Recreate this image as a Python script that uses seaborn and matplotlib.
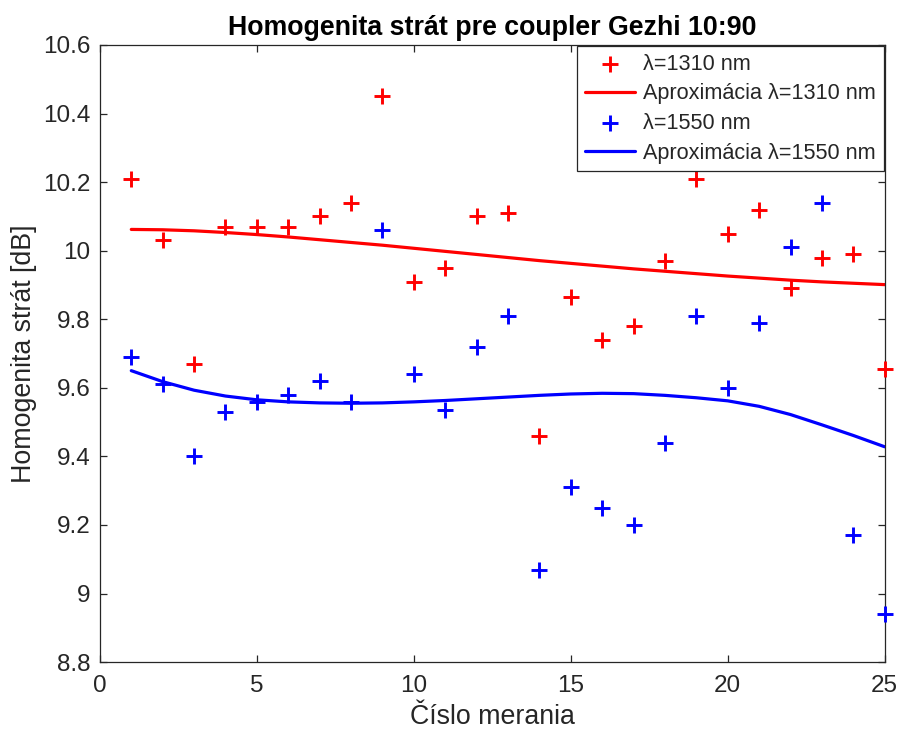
import numpy as np
import pandas as pd
import matplotlib
matplotlib.use("Agg")
import matplotlib.pyplot as plt
import seaborn as sns

meranie = list(range(1, 26))
val_1310 = [10.21, 10.03, 9.67, 10.07, 10.07, 10.07, 10.10, 10.14, 10.45, 9.91,
            9.95, 10.10, 10.11, 9.46, 9.865, 9.74, 9.78, 9.97, 10.21, 10.05,
            10.12, 9.89, 9.98, 9.99, 9.655]
val_1550 = [9.69, 9.61, 9.40, 9.53, 9.56, 9.58, 9.62, 9.56, 10.06, 9.64,
            9.535, 9.72, 9.81, 9.07, 9.31, 9.25, 9.20, 9.44, 9.81, 9.60,
            9.79, 10.01, 10.14, 9.17, 8.94]
fit_1310 = [10.062, 10.061, 10.058, 10.053, 10.047, 10.040, 10.032, 10.024, 10.016, 10.007,
            9.998, 9.989, 9.980, 9.971, 9.963, 9.955, 9.947, 9.940, 9.933, 9.926,
            9.920, 9.914, 9.909, 9.905, 9.901]
fit_1550 = [9.650, 9.618, 9.593, 9.576, 9.565, 9.559, 9.556, 9.555, 9.556, 9.559,
            9.563, 9.568, 9.573, 9.578, 9.582, 9.584, 9.583, 9.578, 9.571, 9.562,
            9.546, 9.522, 9.492, 9.461, 9.428]
y_ticks = [8.8, 9.0, 9.2, 9.4, 9.6, 9.8, 10.0, 10.2, 10.4, 10.6]
y_ticklabels = ["8.8", "9", "9.2", "9.4", "9.6", "9.8", "10", "10.2", "10.4", "10.6"]
x_ticks = [0, 5, 10, 15, 20, 25]

df = pd.DataFrame({"x": meranie, "r": val_1310, "b": val_1550,
                   "fr": fit_1310, "fb": fit_1550})

sns.set_theme(style="ticks")
plt.rcParams["font.family"] = ["Liberation Sans", "DejaVu Sans"]
plt.rcParams["xtick.direction"] = "in"
plt.rcParams["ytick.direction"] = "in"

fig = plt.figure(figsize=(9, 7.34), dpi=100)
ax = fig.add_axes([0.111, 0.098, 0.872, 0.8407])

sns.scatterplot(data=df, x="x", y="r", marker="+", color="#ff0000", s=140,
                linewidth=2.1, label="λ=1310 nm", ax=ax, zorder=3)
sns.lineplot(data=df, x="x", y="fr", color="#ff0000", linewidth=2.3,
             label="Aproximácia λ=1310 nm", ax=ax)
sns.scatterplot(data=df, x="x", y="b", marker="+", color="#0000ff", s=140,
                linewidth=2.1, label="λ=1550 nm", ax=ax, zorder=3)
sns.lineplot(data=df, x="x", y="fb", color="#0000ff", linewidth=2.3,
             label="Aproximácia λ=1550 nm", ax=ax)
for coll in ax.collections:
    coll.set_clip_on(False)

ax.set_xlim(0, 25)
ax.set_ylim(8.8, 10.6)
ax.set_xticks(x_ticks)
ax.set_yticks(y_ticks)
ax.set_yticklabels(y_ticklabels)
for sp in ax.spines.values():
    sp.set_visible(True)
    sp.set_color("#262626")
    sp.set_linewidth(0.9)
ax.tick_params(axis="both", which="both", direction="in", top=True, right=True,
               labelsize=17.5, colors="#262626", length=5, width=0.9)
ax.tick_params(axis="y", pad=7)
ax.tick_params(axis="x", pad=9)
ax.set_xlabel("Číslo merania", fontsize=19.3, color="#262626", labelpad=5)
ax.set_ylabel("Homogenita strát [dB]", fontsize=19.3, color="#262626", labelpad=4)
ax.set_title("Homogenita strát pre coupler Gezhi 10:90", fontsize=19.3,
             fontweight="bold", color="black", pad=7)

leg = ax.legend(loc="upper right", fontsize=15.6, frameon=True, fancybox=False,
                edgecolor="#262626", framealpha=1, borderaxespad=0.05,
                handlelength=2.3, handletextpad=0.4, labelspacing=0.4,
                borderpad=0.35)
leg.get_frame().set_linewidth(0.9)

fig.savefig("out.png", dpi=100)
